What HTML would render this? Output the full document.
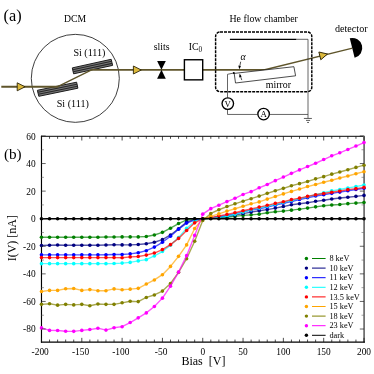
<!DOCTYPE html><html><head><meta charset="utf-8"><style>html,body{margin:0;padding:0;background:#fff}svg{display:block;will-change:transform}text{font-family:"Liberation Serif",serif;fill:#000}</style></head><body>
<svg width="374" height="374" viewBox="0 0 374 374">
<rect width="374" height="374" fill="#fff"/>
<g id="diagram">
<text x="3.5" y="21.4" font-size="16.3">(a)</text>
<text x="64" y="22" font-size="9.7">DCM</text>
<circle cx="75.3" cy="78.35" r="44.0" fill="none" stroke="#1c1c1c" stroke-width="0.85"/>
<polygon points="72.3,67.9 111.2,59.3 112.6,65.4 73.6,73.8" fill="#787878" stroke="#1a1a1a" stroke-width="1.0"/>
<line x1="72.73" y1="69.86" x2="111.67" y2="61.33" stroke="#262626" stroke-width="1.05"/>
<line x1="73.17" y1="71.84" x2="112.13" y2="63.37" stroke="#262626" stroke-width="1.05"/>
<polygon points="37.4,90.3 76.6,82.2 77.9,88.2 38.8,96.3" fill="#787878" stroke="#1a1a1a" stroke-width="1.0"/>
<line x1="37.87" y1="92.30" x2="77.03" y2="84.20" stroke="#262626" stroke-width="1.05"/>
<line x1="38.33" y1="94.30" x2="77.47" y2="86.20" stroke="#262626" stroke-width="1.05"/>
<text x="73.4" y="56" font-size="10.1">Si (111)</text>
<text x="56.7" y="107" font-size="10.15">Si (111)</text>
<polyline points="57.2,86.85 91.6,69.85" fill="none" stroke="#5f552b" stroke-width="1.35" stroke-linecap="round"/>
<polyline points="263.8,70.0 351.5,48.3" fill="none" stroke="#5f552b" stroke-width="1.35" stroke-linecap="round"/>
<line x1="1.3" y1="86.75" x2="57.7" y2="86.75" stroke="#5f552b" stroke-width="1.8"/>
<line x1="91.2" y1="69.95" x2="264.6" y2="69.95" stroke="#5f552b" stroke-width="1.8"/>
<polygon transform="translate(25.1,86.8) rotate(0.0)" points="0,0 -7.9,-4.0 -7.9,4.0" fill="#dcb93c" stroke="#2e2608" stroke-width="0.9" stroke-linejoin="miter"/>
<polygon transform="translate(141.3,70.0) rotate(0.0)" points="0,0 -7.9,-4.0 -7.9,4.0" fill="#dcb93c" stroke="#2e2608" stroke-width="0.9" stroke-linejoin="miter"/>
<polygon transform="translate(327.5,54.0) rotate(-13.9)" points="0,0 -7.9,-4.0 -7.9,4.0" fill="#dcb93c" stroke="#2e2608" stroke-width="0.9" stroke-linejoin="miter"/>
<polygon points="157.1,61 165.8,61 161.45,69.8" fill="#000"/>
<polygon points="157.1,78.8 165.8,78.8 161.45,69.8" fill="#000"/>
<text x="153.7" y="49.8" font-size="9.9">slits</text>
<rect x="184.4" y="59.75" width="18.3" height="20.1" fill="#fff" stroke="#000" stroke-width="1.4"/>
<text x="188.8" y="50.2" font-size="9.7">IC<tspan font-size="7.2" dy="1.8">0</tspan></text>
<text x="229.5" y="21.8" font-size="9.85">He flow chamber</text>
<rect x="215.6" y="32.0" width="96.2" height="59.7" rx="4.4" ry="4.4" fill="none" stroke="#000" stroke-width="1.45" stroke-dasharray="3.0,1.0"/>
<line x1="229.9" y1="39.25" x2="296.4" y2="39.25" stroke="#000" stroke-width="1.25"/>
<polyline points="296.4,39.3 308.0,39.3 308.0,118.2" stroke="#333" stroke-width="0.75" fill="none"/>
<polyline points="233.8,73.0 227.5,74.3 227.5,97.6" stroke="#333" stroke-width="0.75" fill="none"/>
<polyline points="227.5,109.8 227.5,114.45 257.6,114.45" stroke="#333" stroke-width="0.75" fill="none"/>
<line x1="269.8" y1="114.45" x2="308.0" y2="114.45" stroke="#333" stroke-width="0.75" fill="none"/>
<line x1="303.9" y1="118.45" x2="311.9" y2="118.45" stroke="#333" stroke-width="0.8"/>
<line x1="306.0" y1="120.4" x2="310.1" y2="120.4" stroke="#333" stroke-width="0.8"/>
<line x1="307.1" y1="122.45" x2="309.0" y2="122.45" stroke="#333" stroke-width="0.8"/>
<polygon points="234.2,73.4 293.9,66.7 295.6,75.8 235.5,83" fill="#fff" stroke="#111" stroke-width="0.75"/>
<text x="265.8" y="87.6" font-size="9.9">mirror</text>
<line x1="240.7" y1="61.7" x2="239.6" y2="67" stroke="#111" stroke-width="0.75"/>
<polygon points="239.3,69.2 238.3,65.6 240.9,66.2" fill="#000"/>
<line x1="241.8" y1="80.1" x2="240.2" y2="75.5" stroke="#111" stroke-width="0.75"/>
<polygon points="239.6,73.6 241.6,76.6 239.1,77.4" fill="#000"/>
<circle cx="233.8" cy="73.1" r="1" fill="#000"/>
<text x="240.6" y="59.8" font-size="9.8" font-style="italic">α</text>
<circle cx="227.8" cy="103.6" r="5.75" fill="#fff" stroke="#000" stroke-width="1.35"/>
<text x="227.8" y="106.6" font-size="8.8" text-anchor="middle">V</text>
<circle cx="263.6" cy="114.05" r="5.75" fill="#fff" stroke="#000" stroke-width="1.35"/>
<text x="263.6" y="117" font-size="8.8" text-anchor="middle">A</text>
<path transform="translate(352.2,48.0) rotate(-13.9)" d="M0,-10.1 A10.1,10.1 0 0 1 0,10.1 Z" fill="#000"/>
<text x="335.0" y="32" font-size="10.15">detector</text>
</g>
<g id="chart">
<text x="3.9" y="158.6" font-size="15.2">(b)</text>
<line x1="40.93" y1="136.30" x2="363.25" y2="136.30" stroke="#383838" stroke-width="1.3"/>
<line x1="364.10" y1="135.70" x2="364.10" y2="342.60" stroke="#6a6a6a" stroke-width="1.7"/>
<line x1="41.48" y1="135.70" x2="41.48" y2="342.60" stroke="#000" stroke-width="1.15"/>
<line x1="40.93" y1="342.05" x2="364.90" y2="342.05" stroke="#000" stroke-width="1.15"/>
<polyline points="41.48,237.18 49.54,237.18 57.61,237.18 65.67,237.18 73.73,237.18 81.80,237.18 89.86,237.18 97.92,237.18 105.98,237.04 114.05,237.04 122.11,236.90 130.17,236.90 138.24,236.90 146.30,236.49 154.36,234.97 162.43,232.35 170.49,228.22 178.55,223.53 186.61,219.94 194.68,218.98 202.74,218.70 210.80,218.29 218.87,217.73 226.93,217.18 234.99,216.36 243.06,215.39 251.12,214.84 259.18,214.15 267.24,212.77 275.31,211.80 283.37,211.12 291.43,210.15 299.50,209.18 307.56,208.08 315.62,206.84 323.69,205.74 331.75,205.05 339.81,204.50 347.87,203.67 355.94,203.12 364.00,202.43" fill="none" stroke="#008000" stroke-width="1.4" stroke-opacity="0.68" stroke-linejoin="round"/>
<circle cx="41.48" cy="237.18" r="1.8" fill="#008000"/>
<circle cx="49.54" cy="237.18" r="1.8" fill="#008000"/>
<circle cx="57.61" cy="237.18" r="1.8" fill="#008000"/>
<circle cx="65.67" cy="237.18" r="1.8" fill="#008000"/>
<circle cx="73.73" cy="237.18" r="1.8" fill="#008000"/>
<circle cx="81.80" cy="237.18" r="1.8" fill="#008000"/>
<circle cx="89.86" cy="237.18" r="1.8" fill="#008000"/>
<circle cx="97.92" cy="237.18" r="1.8" fill="#008000"/>
<circle cx="105.98" cy="237.04" r="1.8" fill="#008000"/>
<circle cx="114.05" cy="237.04" r="1.8" fill="#008000"/>
<circle cx="122.11" cy="236.90" r="1.8" fill="#008000"/>
<circle cx="130.17" cy="236.90" r="1.8" fill="#008000"/>
<circle cx="138.24" cy="236.90" r="1.8" fill="#008000"/>
<circle cx="146.30" cy="236.49" r="1.8" fill="#008000"/>
<circle cx="154.36" cy="234.97" r="1.8" fill="#008000"/>
<circle cx="162.43" cy="232.35" r="1.8" fill="#008000"/>
<circle cx="170.49" cy="228.22" r="1.8" fill="#008000"/>
<circle cx="178.55" cy="223.53" r="1.8" fill="#008000"/>
<circle cx="186.61" cy="219.94" r="1.8" fill="#008000"/>
<circle cx="194.68" cy="218.98" r="1.8" fill="#008000"/>
<circle cx="202.74" cy="218.70" r="1.8" fill="#008000"/>
<circle cx="210.80" cy="218.29" r="1.8" fill="#008000"/>
<circle cx="218.87" cy="217.73" r="1.8" fill="#008000"/>
<circle cx="226.93" cy="217.18" r="1.8" fill="#008000"/>
<circle cx="234.99" cy="216.36" r="1.8" fill="#008000"/>
<circle cx="243.06" cy="215.39" r="1.8" fill="#008000"/>
<circle cx="251.12" cy="214.84" r="1.8" fill="#008000"/>
<circle cx="259.18" cy="214.15" r="1.8" fill="#008000"/>
<circle cx="267.24" cy="212.77" r="1.8" fill="#008000"/>
<circle cx="275.31" cy="211.80" r="1.8" fill="#008000"/>
<circle cx="283.37" cy="211.12" r="1.8" fill="#008000"/>
<circle cx="291.43" cy="210.15" r="1.8" fill="#008000"/>
<circle cx="299.50" cy="209.18" r="1.8" fill="#008000"/>
<circle cx="307.56" cy="208.08" r="1.8" fill="#008000"/>
<circle cx="315.62" cy="206.84" r="1.8" fill="#008000"/>
<circle cx="323.69" cy="205.74" r="1.8" fill="#008000"/>
<circle cx="331.75" cy="205.05" r="1.8" fill="#008000"/>
<circle cx="339.81" cy="204.50" r="1.8" fill="#008000"/>
<circle cx="347.87" cy="203.67" r="1.8" fill="#008000"/>
<circle cx="355.94" cy="203.12" r="1.8" fill="#008000"/>
<circle cx="364.00" cy="202.43" r="1.8" fill="#008000"/>
<polyline points="41.48,245.45 49.54,245.18 57.61,245.04 65.67,245.18 73.73,245.18 81.80,245.18 89.86,245.18 97.92,245.18 105.98,245.04 114.05,244.76 122.11,244.90 130.17,244.90 138.24,244.49 146.30,243.80 154.36,242.28 162.43,239.66 170.49,234.97 178.55,228.77 186.61,222.15 194.68,219.39 202.74,218.70 210.80,218.01 218.87,217.32 226.93,216.49 234.99,215.11 243.06,213.60 251.12,212.08 259.18,210.70 267.24,209.60 275.31,208.08 283.37,206.56 291.43,204.77 299.50,203.81 307.56,202.70 315.62,201.32 323.69,200.22 331.75,198.98 339.81,198.01 347.87,197.19 355.94,196.36 364.00,195.39" fill="none" stroke="#000080" stroke-width="1.4" stroke-opacity="0.68" stroke-linejoin="round"/>
<circle cx="41.48" cy="245.45" r="1.8" fill="#000080"/>
<circle cx="49.54" cy="245.18" r="1.8" fill="#000080"/>
<circle cx="57.61" cy="245.04" r="1.8" fill="#000080"/>
<circle cx="65.67" cy="245.18" r="1.8" fill="#000080"/>
<circle cx="73.73" cy="245.18" r="1.8" fill="#000080"/>
<circle cx="81.80" cy="245.18" r="1.8" fill="#000080"/>
<circle cx="89.86" cy="245.18" r="1.8" fill="#000080"/>
<circle cx="97.92" cy="245.18" r="1.8" fill="#000080"/>
<circle cx="105.98" cy="245.04" r="1.8" fill="#000080"/>
<circle cx="114.05" cy="244.76" r="1.8" fill="#000080"/>
<circle cx="122.11" cy="244.90" r="1.8" fill="#000080"/>
<circle cx="130.17" cy="244.90" r="1.8" fill="#000080"/>
<circle cx="138.24" cy="244.49" r="1.8" fill="#000080"/>
<circle cx="146.30" cy="243.80" r="1.8" fill="#000080"/>
<circle cx="154.36" cy="242.28" r="1.8" fill="#000080"/>
<circle cx="162.43" cy="239.66" r="1.8" fill="#000080"/>
<circle cx="170.49" cy="234.97" r="1.8" fill="#000080"/>
<circle cx="178.55" cy="228.77" r="1.8" fill="#000080"/>
<circle cx="186.61" cy="222.15" r="1.8" fill="#000080"/>
<circle cx="194.68" cy="219.39" r="1.8" fill="#000080"/>
<circle cx="202.74" cy="218.70" r="1.8" fill="#000080"/>
<circle cx="210.80" cy="218.01" r="1.8" fill="#000080"/>
<circle cx="218.87" cy="217.32" r="1.8" fill="#000080"/>
<circle cx="226.93" cy="216.49" r="1.8" fill="#000080"/>
<circle cx="234.99" cy="215.11" r="1.8" fill="#000080"/>
<circle cx="243.06" cy="213.60" r="1.8" fill="#000080"/>
<circle cx="251.12" cy="212.08" r="1.8" fill="#000080"/>
<circle cx="259.18" cy="210.70" r="1.8" fill="#000080"/>
<circle cx="267.24" cy="209.60" r="1.8" fill="#000080"/>
<circle cx="275.31" cy="208.08" r="1.8" fill="#000080"/>
<circle cx="283.37" cy="206.56" r="1.8" fill="#000080"/>
<circle cx="291.43" cy="204.77" r="1.8" fill="#000080"/>
<circle cx="299.50" cy="203.81" r="1.8" fill="#000080"/>
<circle cx="307.56" cy="202.70" r="1.8" fill="#000080"/>
<circle cx="315.62" cy="201.32" r="1.8" fill="#000080"/>
<circle cx="323.69" cy="200.22" r="1.8" fill="#000080"/>
<circle cx="331.75" cy="198.98" r="1.8" fill="#000080"/>
<circle cx="339.81" cy="198.01" r="1.8" fill="#000080"/>
<circle cx="347.87" cy="197.19" r="1.8" fill="#000080"/>
<circle cx="355.94" cy="196.36" r="1.8" fill="#000080"/>
<circle cx="364.00" cy="195.39" r="1.8" fill="#000080"/>
<polyline points="41.48,254.83 49.54,254.83 57.61,254.83 65.67,254.83 73.73,254.83 81.80,254.83 89.86,254.83 97.92,254.83 105.98,254.69 114.05,254.55 122.11,254.55 130.17,253.86 138.24,252.76 146.30,250.69 154.36,247.11 162.43,242.28 170.49,236.21 178.55,229.18 186.61,223.11 194.68,220.08 202.74,218.70 210.80,217.87 218.87,216.77 226.93,215.53 234.99,213.87 243.06,211.94 251.12,210.15 259.18,208.77 267.24,207.12 275.31,205.19 283.37,203.26 291.43,201.46 299.50,199.53 307.56,197.74 315.62,195.95 323.69,194.71 331.75,193.33 339.81,192.09 347.87,190.71 355.94,189.47 364.00,188.22" fill="none" stroke="#0000ff" stroke-width="1.4" stroke-opacity="0.68" stroke-linejoin="round"/>
<circle cx="41.48" cy="254.83" r="1.8" fill="#0000ff"/>
<circle cx="49.54" cy="254.83" r="1.8" fill="#0000ff"/>
<circle cx="57.61" cy="254.83" r="1.8" fill="#0000ff"/>
<circle cx="65.67" cy="254.83" r="1.8" fill="#0000ff"/>
<circle cx="73.73" cy="254.83" r="1.8" fill="#0000ff"/>
<circle cx="81.80" cy="254.83" r="1.8" fill="#0000ff"/>
<circle cx="89.86" cy="254.83" r="1.8" fill="#0000ff"/>
<circle cx="97.92" cy="254.83" r="1.8" fill="#0000ff"/>
<circle cx="105.98" cy="254.69" r="1.8" fill="#0000ff"/>
<circle cx="114.05" cy="254.55" r="1.8" fill="#0000ff"/>
<circle cx="122.11" cy="254.55" r="1.8" fill="#0000ff"/>
<circle cx="130.17" cy="253.86" r="1.8" fill="#0000ff"/>
<circle cx="138.24" cy="252.76" r="1.8" fill="#0000ff"/>
<circle cx="146.30" cy="250.69" r="1.8" fill="#0000ff"/>
<circle cx="154.36" cy="247.11" r="1.8" fill="#0000ff"/>
<circle cx="162.43" cy="242.28" r="1.8" fill="#0000ff"/>
<circle cx="170.49" cy="236.21" r="1.8" fill="#0000ff"/>
<circle cx="178.55" cy="229.18" r="1.8" fill="#0000ff"/>
<circle cx="186.61" cy="223.11" r="1.8" fill="#0000ff"/>
<circle cx="194.68" cy="220.08" r="1.8" fill="#0000ff"/>
<circle cx="202.74" cy="218.70" r="1.8" fill="#0000ff"/>
<circle cx="210.80" cy="217.87" r="1.8" fill="#0000ff"/>
<circle cx="218.87" cy="216.77" r="1.8" fill="#0000ff"/>
<circle cx="226.93" cy="215.53" r="1.8" fill="#0000ff"/>
<circle cx="234.99" cy="213.87" r="1.8" fill="#0000ff"/>
<circle cx="243.06" cy="211.94" r="1.8" fill="#0000ff"/>
<circle cx="251.12" cy="210.15" r="1.8" fill="#0000ff"/>
<circle cx="259.18" cy="208.77" r="1.8" fill="#0000ff"/>
<circle cx="267.24" cy="207.12" r="1.8" fill="#0000ff"/>
<circle cx="275.31" cy="205.19" r="1.8" fill="#0000ff"/>
<circle cx="283.37" cy="203.26" r="1.8" fill="#0000ff"/>
<circle cx="291.43" cy="201.46" r="1.8" fill="#0000ff"/>
<circle cx="299.50" cy="199.53" r="1.8" fill="#0000ff"/>
<circle cx="307.56" cy="197.74" r="1.8" fill="#0000ff"/>
<circle cx="315.62" cy="195.95" r="1.8" fill="#0000ff"/>
<circle cx="323.69" cy="194.71" r="1.8" fill="#0000ff"/>
<circle cx="331.75" cy="193.33" r="1.8" fill="#0000ff"/>
<circle cx="339.81" cy="192.09" r="1.8" fill="#0000ff"/>
<circle cx="347.87" cy="190.71" r="1.8" fill="#0000ff"/>
<circle cx="355.94" cy="189.47" r="1.8" fill="#0000ff"/>
<circle cx="364.00" cy="188.22" r="1.8" fill="#0000ff"/>
<polyline points="41.48,263.66 49.54,263.66 57.61,263.66 65.67,263.66 73.73,263.66 81.80,263.66 89.86,263.66 97.92,263.66 105.98,263.66 114.05,263.52 122.11,263.10 130.17,262.41 138.24,260.90 146.30,259.66 154.36,255.93 162.43,251.52 170.49,245.18 178.55,237.59 186.61,228.22 194.68,221.46 202.74,218.70 210.80,218.01 218.87,217.18 226.93,216.36 234.99,214.29 243.06,212.08 251.12,209.87 259.18,208.08 267.24,206.29 275.31,204.36 283.37,202.43 291.43,200.50 299.50,198.57 307.56,196.64 315.62,194.71 323.69,192.77 331.75,190.84 339.81,189.47 347.87,187.95 355.94,186.57 364.00,185.05" fill="none" stroke="#00ffff" stroke-width="1.4" stroke-opacity="0.68" stroke-linejoin="round"/>
<circle cx="41.48" cy="263.66" r="1.8" fill="#00ffff"/>
<circle cx="49.54" cy="263.66" r="1.8" fill="#00ffff"/>
<circle cx="57.61" cy="263.66" r="1.8" fill="#00ffff"/>
<circle cx="65.67" cy="263.66" r="1.8" fill="#00ffff"/>
<circle cx="73.73" cy="263.66" r="1.8" fill="#00ffff"/>
<circle cx="81.80" cy="263.66" r="1.8" fill="#00ffff"/>
<circle cx="89.86" cy="263.66" r="1.8" fill="#00ffff"/>
<circle cx="97.92" cy="263.66" r="1.8" fill="#00ffff"/>
<circle cx="105.98" cy="263.66" r="1.8" fill="#00ffff"/>
<circle cx="114.05" cy="263.52" r="1.8" fill="#00ffff"/>
<circle cx="122.11" cy="263.10" r="1.8" fill="#00ffff"/>
<circle cx="130.17" cy="262.41" r="1.8" fill="#00ffff"/>
<circle cx="138.24" cy="260.90" r="1.8" fill="#00ffff"/>
<circle cx="146.30" cy="259.66" r="1.8" fill="#00ffff"/>
<circle cx="154.36" cy="255.93" r="1.8" fill="#00ffff"/>
<circle cx="162.43" cy="251.52" r="1.8" fill="#00ffff"/>
<circle cx="170.49" cy="245.18" r="1.8" fill="#00ffff"/>
<circle cx="178.55" cy="237.59" r="1.8" fill="#00ffff"/>
<circle cx="186.61" cy="228.22" r="1.8" fill="#00ffff"/>
<circle cx="194.68" cy="221.46" r="1.8" fill="#00ffff"/>
<circle cx="202.74" cy="218.70" r="1.8" fill="#00ffff"/>
<circle cx="210.80" cy="218.01" r="1.8" fill="#00ffff"/>
<circle cx="218.87" cy="217.18" r="1.8" fill="#00ffff"/>
<circle cx="226.93" cy="216.36" r="1.8" fill="#00ffff"/>
<circle cx="234.99" cy="214.29" r="1.8" fill="#00ffff"/>
<circle cx="243.06" cy="212.08" r="1.8" fill="#00ffff"/>
<circle cx="251.12" cy="209.87" r="1.8" fill="#00ffff"/>
<circle cx="259.18" cy="208.08" r="1.8" fill="#00ffff"/>
<circle cx="267.24" cy="206.29" r="1.8" fill="#00ffff"/>
<circle cx="275.31" cy="204.36" r="1.8" fill="#00ffff"/>
<circle cx="283.37" cy="202.43" r="1.8" fill="#00ffff"/>
<circle cx="291.43" cy="200.50" r="1.8" fill="#00ffff"/>
<circle cx="299.50" cy="198.57" r="1.8" fill="#00ffff"/>
<circle cx="307.56" cy="196.64" r="1.8" fill="#00ffff"/>
<circle cx="315.62" cy="194.71" r="1.8" fill="#00ffff"/>
<circle cx="323.69" cy="192.77" r="1.8" fill="#00ffff"/>
<circle cx="331.75" cy="190.84" r="1.8" fill="#00ffff"/>
<circle cx="339.81" cy="189.47" r="1.8" fill="#00ffff"/>
<circle cx="347.87" cy="187.95" r="1.8" fill="#00ffff"/>
<circle cx="355.94" cy="186.57" r="1.8" fill="#00ffff"/>
<circle cx="364.00" cy="185.05" r="1.8" fill="#00ffff"/>
<polyline points="41.48,257.59 49.54,257.59 57.61,257.59 65.67,257.59 73.73,257.59 81.80,257.59 89.86,257.59 97.92,257.59 105.98,257.59 114.05,257.59 122.11,257.73 130.17,256.90 138.24,256.48 146.30,255.11 154.36,253.04 162.43,249.59 170.49,244.63 178.55,238.42 186.61,230.56 194.68,222.84 202.74,218.70 210.80,217.60 218.87,215.94 226.93,214.43 234.99,212.77 243.06,210.70 251.12,209.05 259.18,207.12 267.24,205.32 275.31,203.39 283.37,201.74 291.43,199.67 299.50,198.15 307.56,196.36 315.62,194.71 323.69,193.46 331.75,192.22 339.81,190.98 347.87,189.60 355.94,188.64 364.00,187.40" fill="none" stroke="#ff0000" stroke-width="1.4" stroke-opacity="0.68" stroke-linejoin="round"/>
<circle cx="41.48" cy="257.59" r="1.8" fill="#ff0000"/>
<circle cx="49.54" cy="257.59" r="1.8" fill="#ff0000"/>
<circle cx="57.61" cy="257.59" r="1.8" fill="#ff0000"/>
<circle cx="65.67" cy="257.59" r="1.8" fill="#ff0000"/>
<circle cx="73.73" cy="257.59" r="1.8" fill="#ff0000"/>
<circle cx="81.80" cy="257.59" r="1.8" fill="#ff0000"/>
<circle cx="89.86" cy="257.59" r="1.8" fill="#ff0000"/>
<circle cx="97.92" cy="257.59" r="1.8" fill="#ff0000"/>
<circle cx="105.98" cy="257.59" r="1.8" fill="#ff0000"/>
<circle cx="114.05" cy="257.59" r="1.8" fill="#ff0000"/>
<circle cx="122.11" cy="257.73" r="1.8" fill="#ff0000"/>
<circle cx="130.17" cy="256.90" r="1.8" fill="#ff0000"/>
<circle cx="138.24" cy="256.48" r="1.8" fill="#ff0000"/>
<circle cx="146.30" cy="255.11" r="1.8" fill="#ff0000"/>
<circle cx="154.36" cy="253.04" r="1.8" fill="#ff0000"/>
<circle cx="162.43" cy="249.59" r="1.8" fill="#ff0000"/>
<circle cx="170.49" cy="244.63" r="1.8" fill="#ff0000"/>
<circle cx="178.55" cy="238.42" r="1.8" fill="#ff0000"/>
<circle cx="186.61" cy="230.56" r="1.8" fill="#ff0000"/>
<circle cx="194.68" cy="222.84" r="1.8" fill="#ff0000"/>
<circle cx="202.74" cy="218.70" r="1.8" fill="#ff0000"/>
<circle cx="210.80" cy="217.60" r="1.8" fill="#ff0000"/>
<circle cx="218.87" cy="215.94" r="1.8" fill="#ff0000"/>
<circle cx="226.93" cy="214.43" r="1.8" fill="#ff0000"/>
<circle cx="234.99" cy="212.77" r="1.8" fill="#ff0000"/>
<circle cx="243.06" cy="210.70" r="1.8" fill="#ff0000"/>
<circle cx="251.12" cy="209.05" r="1.8" fill="#ff0000"/>
<circle cx="259.18" cy="207.12" r="1.8" fill="#ff0000"/>
<circle cx="267.24" cy="205.32" r="1.8" fill="#ff0000"/>
<circle cx="275.31" cy="203.39" r="1.8" fill="#ff0000"/>
<circle cx="283.37" cy="201.74" r="1.8" fill="#ff0000"/>
<circle cx="291.43" cy="199.67" r="1.8" fill="#ff0000"/>
<circle cx="299.50" cy="198.15" r="1.8" fill="#ff0000"/>
<circle cx="307.56" cy="196.36" r="1.8" fill="#ff0000"/>
<circle cx="315.62" cy="194.71" r="1.8" fill="#ff0000"/>
<circle cx="323.69" cy="193.46" r="1.8" fill="#ff0000"/>
<circle cx="331.75" cy="192.22" r="1.8" fill="#ff0000"/>
<circle cx="339.81" cy="190.98" r="1.8" fill="#ff0000"/>
<circle cx="347.87" cy="189.60" r="1.8" fill="#ff0000"/>
<circle cx="355.94" cy="188.64" r="1.8" fill="#ff0000"/>
<circle cx="364.00" cy="187.40" r="1.8" fill="#ff0000"/>
<polyline points="41.48,291.51 49.54,290.41 57.61,290.41 65.67,288.75 73.73,288.48 81.80,290.41 89.86,289.58 97.92,290.68 105.98,290.68 114.05,288.89 122.11,289.72 130.17,289.17 138.24,288.34 146.30,284.06 154.36,279.93 162.43,274.69 170.49,266.41 178.55,256.35 186.61,244.90 194.68,228.49 202.74,218.70 210.80,216.36 218.87,213.87 226.93,211.12 234.99,208.77 243.06,206.29 251.12,203.81 259.18,201.88 267.24,199.12 275.31,196.50 283.37,193.88 291.43,191.40 299.50,189.05 307.56,186.57 315.62,184.50 323.69,182.29 331.75,180.23 339.81,178.02 347.87,175.95 355.94,173.74 364.00,171.68" fill="none" stroke="#ffa500" stroke-width="1.4" stroke-opacity="0.68" stroke-linejoin="round"/>
<circle cx="41.48" cy="291.51" r="1.8" fill="#ffa500"/>
<circle cx="49.54" cy="290.41" r="1.8" fill="#ffa500"/>
<circle cx="57.61" cy="290.41" r="1.8" fill="#ffa500"/>
<circle cx="65.67" cy="288.75" r="1.8" fill="#ffa500"/>
<circle cx="73.73" cy="288.48" r="1.8" fill="#ffa500"/>
<circle cx="81.80" cy="290.41" r="1.8" fill="#ffa500"/>
<circle cx="89.86" cy="289.58" r="1.8" fill="#ffa500"/>
<circle cx="97.92" cy="290.68" r="1.8" fill="#ffa500"/>
<circle cx="105.98" cy="290.68" r="1.8" fill="#ffa500"/>
<circle cx="114.05" cy="288.89" r="1.8" fill="#ffa500"/>
<circle cx="122.11" cy="289.72" r="1.8" fill="#ffa500"/>
<circle cx="130.17" cy="289.17" r="1.8" fill="#ffa500"/>
<circle cx="138.24" cy="288.34" r="1.8" fill="#ffa500"/>
<circle cx="146.30" cy="284.06" r="1.8" fill="#ffa500"/>
<circle cx="154.36" cy="279.93" r="1.8" fill="#ffa500"/>
<circle cx="162.43" cy="274.69" r="1.8" fill="#ffa500"/>
<circle cx="170.49" cy="266.41" r="1.8" fill="#ffa500"/>
<circle cx="178.55" cy="256.35" r="1.8" fill="#ffa500"/>
<circle cx="186.61" cy="244.90" r="1.8" fill="#ffa500"/>
<circle cx="194.68" cy="228.49" r="1.8" fill="#ffa500"/>
<circle cx="202.74" cy="218.70" r="1.8" fill="#ffa500"/>
<circle cx="210.80" cy="216.36" r="1.8" fill="#ffa500"/>
<circle cx="218.87" cy="213.87" r="1.8" fill="#ffa500"/>
<circle cx="226.93" cy="211.12" r="1.8" fill="#ffa500"/>
<circle cx="234.99" cy="208.77" r="1.8" fill="#ffa500"/>
<circle cx="243.06" cy="206.29" r="1.8" fill="#ffa500"/>
<circle cx="251.12" cy="203.81" r="1.8" fill="#ffa500"/>
<circle cx="259.18" cy="201.88" r="1.8" fill="#ffa500"/>
<circle cx="267.24" cy="199.12" r="1.8" fill="#ffa500"/>
<circle cx="275.31" cy="196.50" r="1.8" fill="#ffa500"/>
<circle cx="283.37" cy="193.88" r="1.8" fill="#ffa500"/>
<circle cx="291.43" cy="191.40" r="1.8" fill="#ffa500"/>
<circle cx="299.50" cy="189.05" r="1.8" fill="#ffa500"/>
<circle cx="307.56" cy="186.57" r="1.8" fill="#ffa500"/>
<circle cx="315.62" cy="184.50" r="1.8" fill="#ffa500"/>
<circle cx="323.69" cy="182.29" r="1.8" fill="#ffa500"/>
<circle cx="331.75" cy="180.23" r="1.8" fill="#ffa500"/>
<circle cx="339.81" cy="178.02" r="1.8" fill="#ffa500"/>
<circle cx="347.87" cy="175.95" r="1.8" fill="#ffa500"/>
<circle cx="355.94" cy="173.74" r="1.8" fill="#ffa500"/>
<circle cx="364.00" cy="171.68" r="1.8" fill="#ffa500"/>
<polyline points="41.48,304.34 49.54,303.78 57.61,305.16 65.67,304.34 73.73,304.89 81.80,304.34 89.86,305.71 97.92,304.06 105.98,304.34 114.05,304.34 122.11,302.82 130.17,301.30 138.24,301.58 146.30,297.44 154.36,294.96 162.43,291.10 170.49,283.51 178.55,272.34 186.61,258.69 194.68,241.32 202.74,220.49 210.80,213.46 218.87,209.74 226.93,206.56 234.99,203.81 243.06,201.19 251.12,198.70 259.18,196.08 267.24,193.33 275.31,190.71 283.37,188.36 291.43,185.74 299.50,183.67 307.56,181.47 315.62,178.85 323.69,176.64 331.75,174.16 339.81,171.95 347.87,169.75 355.94,167.40 364.00,165.19" fill="none" stroke="#808000" stroke-width="1.4" stroke-opacity="0.68" stroke-linejoin="round"/>
<circle cx="41.48" cy="304.34" r="1.8" fill="#808000"/>
<circle cx="49.54" cy="303.78" r="1.8" fill="#808000"/>
<circle cx="57.61" cy="305.16" r="1.8" fill="#808000"/>
<circle cx="65.67" cy="304.34" r="1.8" fill="#808000"/>
<circle cx="73.73" cy="304.89" r="1.8" fill="#808000"/>
<circle cx="81.80" cy="304.34" r="1.8" fill="#808000"/>
<circle cx="89.86" cy="305.71" r="1.8" fill="#808000"/>
<circle cx="97.92" cy="304.06" r="1.8" fill="#808000"/>
<circle cx="105.98" cy="304.34" r="1.8" fill="#808000"/>
<circle cx="114.05" cy="304.34" r="1.8" fill="#808000"/>
<circle cx="122.11" cy="302.82" r="1.8" fill="#808000"/>
<circle cx="130.17" cy="301.30" r="1.8" fill="#808000"/>
<circle cx="138.24" cy="301.58" r="1.8" fill="#808000"/>
<circle cx="146.30" cy="297.44" r="1.8" fill="#808000"/>
<circle cx="154.36" cy="294.96" r="1.8" fill="#808000"/>
<circle cx="162.43" cy="291.10" r="1.8" fill="#808000"/>
<circle cx="170.49" cy="283.51" r="1.8" fill="#808000"/>
<circle cx="178.55" cy="272.34" r="1.8" fill="#808000"/>
<circle cx="186.61" cy="258.69" r="1.8" fill="#808000"/>
<circle cx="194.68" cy="241.32" r="1.8" fill="#808000"/>
<circle cx="202.74" cy="220.49" r="1.8" fill="#808000"/>
<circle cx="210.80" cy="213.46" r="1.8" fill="#808000"/>
<circle cx="218.87" cy="209.74" r="1.8" fill="#808000"/>
<circle cx="226.93" cy="206.56" r="1.8" fill="#808000"/>
<circle cx="234.99" cy="203.81" r="1.8" fill="#808000"/>
<circle cx="243.06" cy="201.19" r="1.8" fill="#808000"/>
<circle cx="251.12" cy="198.70" r="1.8" fill="#808000"/>
<circle cx="259.18" cy="196.08" r="1.8" fill="#808000"/>
<circle cx="267.24" cy="193.33" r="1.8" fill="#808000"/>
<circle cx="275.31" cy="190.71" r="1.8" fill="#808000"/>
<circle cx="283.37" cy="188.36" r="1.8" fill="#808000"/>
<circle cx="291.43" cy="185.74" r="1.8" fill="#808000"/>
<circle cx="299.50" cy="183.67" r="1.8" fill="#808000"/>
<circle cx="307.56" cy="181.47" r="1.8" fill="#808000"/>
<circle cx="315.62" cy="178.85" r="1.8" fill="#808000"/>
<circle cx="323.69" cy="176.64" r="1.8" fill="#808000"/>
<circle cx="331.75" cy="174.16" r="1.8" fill="#808000"/>
<circle cx="339.81" cy="171.95" r="1.8" fill="#808000"/>
<circle cx="347.87" cy="169.75" r="1.8" fill="#808000"/>
<circle cx="355.94" cy="167.40" r="1.8" fill="#808000"/>
<circle cx="364.00" cy="165.19" r="1.8" fill="#808000"/>
<polyline points="41.48,327.92 49.54,330.40 57.61,330.54 65.67,331.23 73.73,331.36 81.80,330.40 89.86,329.57 97.92,328.19 105.98,330.12 114.05,327.78 122.11,326.68 130.17,322.54 138.24,317.85 146.30,312.89 154.36,306.54 162.43,298.13 170.49,286.13 178.55,272.07 186.61,255.66 194.68,235.39 202.74,214.15 210.80,208.63 218.87,205.19 226.93,201.60 234.99,198.29 243.06,194.43 251.12,191.67 259.18,187.81 267.24,184.50 275.31,180.64 283.37,177.05 291.43,173.33 299.50,169.88 307.56,166.57 315.62,163.26 323.69,159.54 331.75,155.82 339.81,152.78 347.87,149.47 355.94,146.03 364.00,142.58" fill="none" stroke="#ff00ff" stroke-width="1.4" stroke-opacity="0.68" stroke-linejoin="round"/>
<circle cx="41.48" cy="327.92" r="1.8" fill="#ff00ff"/>
<circle cx="49.54" cy="330.40" r="1.8" fill="#ff00ff"/>
<circle cx="57.61" cy="330.54" r="1.8" fill="#ff00ff"/>
<circle cx="65.67" cy="331.23" r="1.8" fill="#ff00ff"/>
<circle cx="73.73" cy="331.36" r="1.8" fill="#ff00ff"/>
<circle cx="81.80" cy="330.40" r="1.8" fill="#ff00ff"/>
<circle cx="89.86" cy="329.57" r="1.8" fill="#ff00ff"/>
<circle cx="97.92" cy="328.19" r="1.8" fill="#ff00ff"/>
<circle cx="105.98" cy="330.12" r="1.8" fill="#ff00ff"/>
<circle cx="114.05" cy="327.78" r="1.8" fill="#ff00ff"/>
<circle cx="122.11" cy="326.68" r="1.8" fill="#ff00ff"/>
<circle cx="130.17" cy="322.54" r="1.8" fill="#ff00ff"/>
<circle cx="138.24" cy="317.85" r="1.8" fill="#ff00ff"/>
<circle cx="146.30" cy="312.89" r="1.8" fill="#ff00ff"/>
<circle cx="154.36" cy="306.54" r="1.8" fill="#ff00ff"/>
<circle cx="162.43" cy="298.13" r="1.8" fill="#ff00ff"/>
<circle cx="170.49" cy="286.13" r="1.8" fill="#ff00ff"/>
<circle cx="178.55" cy="272.07" r="1.8" fill="#ff00ff"/>
<circle cx="186.61" cy="255.66" r="1.8" fill="#ff00ff"/>
<circle cx="194.68" cy="235.39" r="1.8" fill="#ff00ff"/>
<circle cx="202.74" cy="214.15" r="1.8" fill="#ff00ff"/>
<circle cx="210.80" cy="208.63" r="1.8" fill="#ff00ff"/>
<circle cx="218.87" cy="205.19" r="1.8" fill="#ff00ff"/>
<circle cx="226.93" cy="201.60" r="1.8" fill="#ff00ff"/>
<circle cx="234.99" cy="198.29" r="1.8" fill="#ff00ff"/>
<circle cx="243.06" cy="194.43" r="1.8" fill="#ff00ff"/>
<circle cx="251.12" cy="191.67" r="1.8" fill="#ff00ff"/>
<circle cx="259.18" cy="187.81" r="1.8" fill="#ff00ff"/>
<circle cx="267.24" cy="184.50" r="1.8" fill="#ff00ff"/>
<circle cx="275.31" cy="180.64" r="1.8" fill="#ff00ff"/>
<circle cx="283.37" cy="177.05" r="1.8" fill="#ff00ff"/>
<circle cx="291.43" cy="173.33" r="1.8" fill="#ff00ff"/>
<circle cx="299.50" cy="169.88" r="1.8" fill="#ff00ff"/>
<circle cx="307.56" cy="166.57" r="1.8" fill="#ff00ff"/>
<circle cx="315.62" cy="163.26" r="1.8" fill="#ff00ff"/>
<circle cx="323.69" cy="159.54" r="1.8" fill="#ff00ff"/>
<circle cx="331.75" cy="155.82" r="1.8" fill="#ff00ff"/>
<circle cx="339.81" cy="152.78" r="1.8" fill="#ff00ff"/>
<circle cx="347.87" cy="149.47" r="1.8" fill="#ff00ff"/>
<circle cx="355.94" cy="146.03" r="1.8" fill="#ff00ff"/>
<circle cx="364.00" cy="142.58" r="1.8" fill="#ff00ff"/>
<polyline points="41.48,218.70 49.54,218.70 57.61,218.70 65.67,218.70 73.73,218.70 81.80,218.70 89.86,218.70 97.92,218.70 105.98,218.70 114.05,218.70 122.11,218.70 130.17,218.70 138.24,218.70 146.30,218.70 154.36,218.70 162.43,218.70 170.49,218.70 178.55,218.70 186.61,218.70 194.68,218.70 202.74,218.70 210.80,218.70 218.87,218.70 226.93,218.70 234.99,218.70 243.06,218.70 251.12,218.70 259.18,218.70 267.24,218.70 275.31,218.70 283.37,218.70 291.43,218.70 299.50,218.70 307.56,218.70 315.62,218.70 323.69,218.70 331.75,218.70 339.81,218.70 347.87,218.70 355.94,218.70 364.00,218.70" fill="none" stroke="#000000" stroke-width="1.4" stroke-opacity="1" stroke-linejoin="round"/>
<circle cx="41.48" cy="218.70" r="1.8" fill="#000000"/>
<circle cx="49.54" cy="218.70" r="1.8" fill="#000000"/>
<circle cx="57.61" cy="218.70" r="1.8" fill="#000000"/>
<circle cx="65.67" cy="218.70" r="1.8" fill="#000000"/>
<circle cx="73.73" cy="218.70" r="1.8" fill="#000000"/>
<circle cx="81.80" cy="218.70" r="1.8" fill="#000000"/>
<circle cx="89.86" cy="218.70" r="1.8" fill="#000000"/>
<circle cx="97.92" cy="218.70" r="1.8" fill="#000000"/>
<circle cx="105.98" cy="218.70" r="1.8" fill="#000000"/>
<circle cx="114.05" cy="218.70" r="1.8" fill="#000000"/>
<circle cx="122.11" cy="218.70" r="1.8" fill="#000000"/>
<circle cx="130.17" cy="218.70" r="1.8" fill="#000000"/>
<circle cx="138.24" cy="218.70" r="1.8" fill="#000000"/>
<circle cx="146.30" cy="218.70" r="1.8" fill="#000000"/>
<circle cx="154.36" cy="218.70" r="1.8" fill="#000000"/>
<circle cx="162.43" cy="218.70" r="1.8" fill="#000000"/>
<circle cx="170.49" cy="218.70" r="1.8" fill="#000000"/>
<circle cx="178.55" cy="218.70" r="1.8" fill="#000000"/>
<circle cx="186.61" cy="218.70" r="1.8" fill="#000000"/>
<circle cx="194.68" cy="218.70" r="1.8" fill="#000000"/>
<circle cx="202.74" cy="218.70" r="1.8" fill="#000000"/>
<circle cx="210.80" cy="218.70" r="1.8" fill="#000000"/>
<circle cx="218.87" cy="218.70" r="1.8" fill="#000000"/>
<circle cx="226.93" cy="218.70" r="1.8" fill="#000000"/>
<circle cx="234.99" cy="218.70" r="1.8" fill="#000000"/>
<circle cx="243.06" cy="218.70" r="1.8" fill="#000000"/>
<circle cx="251.12" cy="218.70" r="1.8" fill="#000000"/>
<circle cx="259.18" cy="218.70" r="1.8" fill="#000000"/>
<circle cx="267.24" cy="218.70" r="1.8" fill="#000000"/>
<circle cx="275.31" cy="218.70" r="1.8" fill="#000000"/>
<circle cx="283.37" cy="218.70" r="1.8" fill="#000000"/>
<circle cx="291.43" cy="218.70" r="1.8" fill="#000000"/>
<circle cx="299.50" cy="218.70" r="1.8" fill="#000000"/>
<circle cx="307.56" cy="218.70" r="1.8" fill="#000000"/>
<circle cx="315.62" cy="218.70" r="1.8" fill="#000000"/>
<circle cx="323.69" cy="218.70" r="1.8" fill="#000000"/>
<circle cx="331.75" cy="218.70" r="1.8" fill="#000000"/>
<circle cx="339.81" cy="218.70" r="1.8" fill="#000000"/>
<circle cx="347.87" cy="218.70" r="1.8" fill="#000000"/>
<circle cx="355.94" cy="218.70" r="1.8" fill="#000000"/>
<circle cx="364.00" cy="218.70" r="1.8" fill="#000000"/>
<line x1="41.48" y1="342.05" x2="41.48" y2="337.85" stroke="#111" stroke-width="0.75"/>
<line x1="41.48" y1="136.30" x2="41.48" y2="140.50" stroke="#111" stroke-width="0.75"/>
<text x="40.18" y="355" font-size="9.4" text-anchor="middle">-200</text>
<line x1="49.54" y1="342.05" x2="49.54" y2="339.55" stroke="#111" stroke-width="0.75"/>
<line x1="49.54" y1="136.30" x2="49.54" y2="138.80" stroke="#111" stroke-width="0.75"/>
<line x1="57.61" y1="342.05" x2="57.61" y2="339.55" stroke="#111" stroke-width="0.75"/>
<line x1="57.61" y1="136.30" x2="57.61" y2="138.80" stroke="#111" stroke-width="0.75"/>
<line x1="65.67" y1="342.05" x2="65.67" y2="339.55" stroke="#111" stroke-width="0.75"/>
<line x1="65.67" y1="136.30" x2="65.67" y2="138.80" stroke="#111" stroke-width="0.75"/>
<line x1="73.73" y1="342.05" x2="73.73" y2="339.55" stroke="#111" stroke-width="0.75"/>
<line x1="73.73" y1="136.30" x2="73.73" y2="138.80" stroke="#111" stroke-width="0.75"/>
<line x1="81.80" y1="342.05" x2="81.80" y2="337.85" stroke="#111" stroke-width="0.75"/>
<line x1="81.80" y1="136.30" x2="81.80" y2="140.50" stroke="#111" stroke-width="0.75"/>
<text x="80.50" y="355" font-size="9.4" text-anchor="middle">-150</text>
<line x1="89.86" y1="342.05" x2="89.86" y2="339.55" stroke="#111" stroke-width="0.75"/>
<line x1="89.86" y1="136.30" x2="89.86" y2="138.80" stroke="#111" stroke-width="0.75"/>
<line x1="97.92" y1="342.05" x2="97.92" y2="339.55" stroke="#111" stroke-width="0.75"/>
<line x1="97.92" y1="136.30" x2="97.92" y2="138.80" stroke="#111" stroke-width="0.75"/>
<line x1="105.98" y1="342.05" x2="105.98" y2="339.55" stroke="#111" stroke-width="0.75"/>
<line x1="105.98" y1="136.30" x2="105.98" y2="138.80" stroke="#111" stroke-width="0.75"/>
<line x1="114.05" y1="342.05" x2="114.05" y2="339.55" stroke="#111" stroke-width="0.75"/>
<line x1="114.05" y1="136.30" x2="114.05" y2="138.80" stroke="#111" stroke-width="0.75"/>
<line x1="122.11" y1="342.05" x2="122.11" y2="337.85" stroke="#111" stroke-width="0.75"/>
<line x1="122.11" y1="136.30" x2="122.11" y2="140.50" stroke="#111" stroke-width="0.75"/>
<text x="120.81" y="355" font-size="9.4" text-anchor="middle">-100</text>
<line x1="130.17" y1="342.05" x2="130.17" y2="339.55" stroke="#111" stroke-width="0.75"/>
<line x1="130.17" y1="136.30" x2="130.17" y2="138.80" stroke="#111" stroke-width="0.75"/>
<line x1="138.24" y1="342.05" x2="138.24" y2="339.55" stroke="#111" stroke-width="0.75"/>
<line x1="138.24" y1="136.30" x2="138.24" y2="138.80" stroke="#111" stroke-width="0.75"/>
<line x1="146.30" y1="342.05" x2="146.30" y2="339.55" stroke="#111" stroke-width="0.75"/>
<line x1="146.30" y1="136.30" x2="146.30" y2="138.80" stroke="#111" stroke-width="0.75"/>
<line x1="154.36" y1="342.05" x2="154.36" y2="339.55" stroke="#111" stroke-width="0.75"/>
<line x1="154.36" y1="136.30" x2="154.36" y2="138.80" stroke="#111" stroke-width="0.75"/>
<line x1="162.43" y1="342.05" x2="162.43" y2="337.85" stroke="#111" stroke-width="0.75"/>
<line x1="162.43" y1="136.30" x2="162.43" y2="140.50" stroke="#111" stroke-width="0.75"/>
<text x="161.12" y="355" font-size="9.4" text-anchor="middle">-50</text>
<line x1="170.49" y1="342.05" x2="170.49" y2="339.55" stroke="#111" stroke-width="0.75"/>
<line x1="170.49" y1="136.30" x2="170.49" y2="138.80" stroke="#111" stroke-width="0.75"/>
<line x1="178.55" y1="342.05" x2="178.55" y2="339.55" stroke="#111" stroke-width="0.75"/>
<line x1="178.55" y1="136.30" x2="178.55" y2="138.80" stroke="#111" stroke-width="0.75"/>
<line x1="186.61" y1="342.05" x2="186.61" y2="339.55" stroke="#111" stroke-width="0.75"/>
<line x1="186.61" y1="136.30" x2="186.61" y2="138.80" stroke="#111" stroke-width="0.75"/>
<line x1="194.68" y1="342.05" x2="194.68" y2="339.55" stroke="#111" stroke-width="0.75"/>
<line x1="194.68" y1="136.30" x2="194.68" y2="138.80" stroke="#111" stroke-width="0.75"/>
<line x1="202.74" y1="342.05" x2="202.74" y2="337.85" stroke="#111" stroke-width="0.75"/>
<line x1="202.74" y1="136.30" x2="202.74" y2="140.50" stroke="#111" stroke-width="0.75"/>
<text x="202.74" y="355" font-size="9.4" text-anchor="middle">0</text>
<line x1="210.80" y1="342.05" x2="210.80" y2="339.55" stroke="#111" stroke-width="0.75"/>
<line x1="210.80" y1="136.30" x2="210.80" y2="138.80" stroke="#111" stroke-width="0.75"/>
<line x1="218.87" y1="342.05" x2="218.87" y2="339.55" stroke="#111" stroke-width="0.75"/>
<line x1="218.87" y1="136.30" x2="218.87" y2="138.80" stroke="#111" stroke-width="0.75"/>
<line x1="226.93" y1="342.05" x2="226.93" y2="339.55" stroke="#111" stroke-width="0.75"/>
<line x1="226.93" y1="136.30" x2="226.93" y2="138.80" stroke="#111" stroke-width="0.75"/>
<line x1="234.99" y1="342.05" x2="234.99" y2="339.55" stroke="#111" stroke-width="0.75"/>
<line x1="234.99" y1="136.30" x2="234.99" y2="138.80" stroke="#111" stroke-width="0.75"/>
<line x1="243.06" y1="342.05" x2="243.06" y2="337.85" stroke="#111" stroke-width="0.75"/>
<line x1="243.06" y1="136.30" x2="243.06" y2="140.50" stroke="#111" stroke-width="0.75"/>
<text x="243.06" y="355" font-size="9.4" text-anchor="middle">50</text>
<line x1="251.12" y1="342.05" x2="251.12" y2="339.55" stroke="#111" stroke-width="0.75"/>
<line x1="251.12" y1="136.30" x2="251.12" y2="138.80" stroke="#111" stroke-width="0.75"/>
<line x1="259.18" y1="342.05" x2="259.18" y2="339.55" stroke="#111" stroke-width="0.75"/>
<line x1="259.18" y1="136.30" x2="259.18" y2="138.80" stroke="#111" stroke-width="0.75"/>
<line x1="267.24" y1="342.05" x2="267.24" y2="339.55" stroke="#111" stroke-width="0.75"/>
<line x1="267.24" y1="136.30" x2="267.24" y2="138.80" stroke="#111" stroke-width="0.75"/>
<line x1="275.31" y1="342.05" x2="275.31" y2="339.55" stroke="#111" stroke-width="0.75"/>
<line x1="275.31" y1="136.30" x2="275.31" y2="138.80" stroke="#111" stroke-width="0.75"/>
<line x1="283.37" y1="342.05" x2="283.37" y2="337.85" stroke="#111" stroke-width="0.75"/>
<line x1="283.37" y1="136.30" x2="283.37" y2="140.50" stroke="#111" stroke-width="0.75"/>
<text x="283.37" y="355" font-size="9.4" text-anchor="middle">100</text>
<line x1="291.43" y1="342.05" x2="291.43" y2="339.55" stroke="#111" stroke-width="0.75"/>
<line x1="291.43" y1="136.30" x2="291.43" y2="138.80" stroke="#111" stroke-width="0.75"/>
<line x1="299.50" y1="342.05" x2="299.50" y2="339.55" stroke="#111" stroke-width="0.75"/>
<line x1="299.50" y1="136.30" x2="299.50" y2="138.80" stroke="#111" stroke-width="0.75"/>
<line x1="307.56" y1="342.05" x2="307.56" y2="339.55" stroke="#111" stroke-width="0.75"/>
<line x1="307.56" y1="136.30" x2="307.56" y2="138.80" stroke="#111" stroke-width="0.75"/>
<line x1="315.62" y1="342.05" x2="315.62" y2="339.55" stroke="#111" stroke-width="0.75"/>
<line x1="315.62" y1="136.30" x2="315.62" y2="138.80" stroke="#111" stroke-width="0.75"/>
<line x1="323.69" y1="342.05" x2="323.69" y2="337.85" stroke="#111" stroke-width="0.75"/>
<line x1="323.69" y1="136.30" x2="323.69" y2="140.50" stroke="#111" stroke-width="0.75"/>
<text x="323.69" y="355" font-size="9.4" text-anchor="middle">150</text>
<line x1="331.75" y1="342.05" x2="331.75" y2="339.55" stroke="#111" stroke-width="0.75"/>
<line x1="331.75" y1="136.30" x2="331.75" y2="138.80" stroke="#111" stroke-width="0.75"/>
<line x1="339.81" y1="342.05" x2="339.81" y2="339.55" stroke="#111" stroke-width="0.75"/>
<line x1="339.81" y1="136.30" x2="339.81" y2="138.80" stroke="#111" stroke-width="0.75"/>
<line x1="347.87" y1="342.05" x2="347.87" y2="339.55" stroke="#111" stroke-width="0.75"/>
<line x1="347.87" y1="136.30" x2="347.87" y2="138.80" stroke="#111" stroke-width="0.75"/>
<line x1="355.94" y1="342.05" x2="355.94" y2="339.55" stroke="#111" stroke-width="0.75"/>
<line x1="355.94" y1="136.30" x2="355.94" y2="138.80" stroke="#111" stroke-width="0.75"/>
<line x1="364.00" y1="342.05" x2="364.00" y2="337.85" stroke="#111" stroke-width="0.75"/>
<line x1="364.00" y1="136.30" x2="364.00" y2="140.50" stroke="#111" stroke-width="0.75"/>
<text x="364.00" y="355" font-size="9.4" text-anchor="middle">200</text>
<line x1="41.48" y1="329.02" x2="45.68" y2="329.02" stroke="#222" stroke-width="0.7"/>
<line x1="364.00" y1="329.02" x2="359.80" y2="329.02" stroke="#222" stroke-width="0.7"/>
<text x="35.6" y="332" font-size="9.4" text-anchor="end">-80</text>
<line x1="41.48" y1="315.23" x2="43.98" y2="315.23" stroke="#666" stroke-width="0.6"/>
<line x1="364.00" y1="315.23" x2="361.50" y2="315.23" stroke="#666" stroke-width="0.6"/>
<line x1="41.48" y1="301.44" x2="45.68" y2="301.44" stroke="#222" stroke-width="0.7"/>
<line x1="364.00" y1="301.44" x2="359.80" y2="301.44" stroke="#222" stroke-width="0.7"/>
<text x="35.6" y="305" font-size="9.4" text-anchor="end">-60</text>
<line x1="41.48" y1="287.65" x2="43.98" y2="287.65" stroke="#666" stroke-width="0.6"/>
<line x1="364.00" y1="287.65" x2="361.50" y2="287.65" stroke="#666" stroke-width="0.6"/>
<line x1="41.48" y1="273.86" x2="45.68" y2="273.86" stroke="#222" stroke-width="0.7"/>
<line x1="364.00" y1="273.86" x2="359.80" y2="273.86" stroke="#222" stroke-width="0.7"/>
<text x="35.6" y="277" font-size="9.4" text-anchor="end">-40</text>
<line x1="41.48" y1="260.07" x2="43.98" y2="260.07" stroke="#666" stroke-width="0.6"/>
<line x1="364.00" y1="260.07" x2="361.50" y2="260.07" stroke="#666" stroke-width="0.6"/>
<line x1="41.48" y1="246.28" x2="45.68" y2="246.28" stroke="#222" stroke-width="0.7"/>
<line x1="364.00" y1="246.28" x2="359.80" y2="246.28" stroke="#222" stroke-width="0.7"/>
<text x="35.6" y="250" font-size="9.4" text-anchor="end">-20</text>
<line x1="41.48" y1="232.49" x2="43.98" y2="232.49" stroke="#666" stroke-width="0.6"/>
<line x1="364.00" y1="232.49" x2="361.50" y2="232.49" stroke="#666" stroke-width="0.6"/>
<line x1="41.48" y1="218.70" x2="45.68" y2="218.70" stroke="#222" stroke-width="0.7"/>
<line x1="364.00" y1="218.70" x2="359.80" y2="218.70" stroke="#222" stroke-width="0.7"/>
<text x="35.6" y="222" font-size="9.4" text-anchor="end">0</text>
<line x1="41.48" y1="204.91" x2="43.98" y2="204.91" stroke="#666" stroke-width="0.6"/>
<line x1="364.00" y1="204.91" x2="361.50" y2="204.91" stroke="#666" stroke-width="0.6"/>
<line x1="41.48" y1="191.12" x2="45.68" y2="191.12" stroke="#222" stroke-width="0.7"/>
<line x1="364.00" y1="191.12" x2="359.80" y2="191.12" stroke="#222" stroke-width="0.7"/>
<text x="35.6" y="195" font-size="9.4" text-anchor="end">20</text>
<line x1="41.48" y1="177.33" x2="43.98" y2="177.33" stroke="#666" stroke-width="0.6"/>
<line x1="364.00" y1="177.33" x2="361.50" y2="177.33" stroke="#666" stroke-width="0.6"/>
<line x1="41.48" y1="163.54" x2="45.68" y2="163.54" stroke="#222" stroke-width="0.7"/>
<line x1="364.00" y1="163.54" x2="359.80" y2="163.54" stroke="#222" stroke-width="0.7"/>
<text x="35.6" y="167" font-size="9.4" text-anchor="end">40</text>
<line x1="41.48" y1="149.75" x2="43.98" y2="149.75" stroke="#666" stroke-width="0.6"/>
<line x1="364.00" y1="149.75" x2="361.50" y2="149.75" stroke="#666" stroke-width="0.6"/>
<line x1="41.48" y1="135.96" x2="45.68" y2="135.96" stroke="#222" stroke-width="0.7"/>
<line x1="364.00" y1="135.96" x2="359.80" y2="135.96" stroke="#222" stroke-width="0.7"/>
<text x="35.6" y="140" font-size="9.4" text-anchor="end">60</text>
<text x="203.4" y="365.2" font-size="12" text-anchor="middle" xml:space="preserve">Bias  [V]</text>
<text transform="translate(15.6,238.2) rotate(-90)" font-size="12" text-anchor="middle">I(V) [nA]</text>
<circle cx="306.4" cy="258.50" r="1.7" fill="#008000"/>
<line x1="312" y1="258.50" x2="325.6" y2="258.50" stroke="#008000" stroke-width="1"/>
<text x="329.4" y="261.20" font-size="8.3">8 keV</text>
<circle cx="306.4" cy="268.10" r="1.7" fill="#000080"/>
<line x1="312" y1="268.10" x2="325.6" y2="268.10" stroke="#000080" stroke-width="1"/>
<text x="329.4" y="270.80" font-size="8.3">10 keV</text>
<circle cx="306.4" cy="277.70" r="1.7" fill="#0000ff"/>
<line x1="312" y1="277.70" x2="325.6" y2="277.70" stroke="#0000ff" stroke-width="1"/>
<text x="329.4" y="280.40" font-size="8.3">11 keV</text>
<circle cx="306.4" cy="287.30" r="1.7" fill="#00ffff"/>
<line x1="312" y1="287.30" x2="325.6" y2="287.30" stroke="#00ffff" stroke-width="1"/>
<text x="329.4" y="290.00" font-size="8.3">12 keV</text>
<circle cx="306.4" cy="296.90" r="1.7" fill="#ff0000"/>
<line x1="312" y1="296.90" x2="325.6" y2="296.90" stroke="#ff0000" stroke-width="1"/>
<text x="329.4" y="299.60" font-size="8.3">13.5 keV</text>
<circle cx="306.4" cy="306.50" r="1.7" fill="#ffa500"/>
<line x1="312" y1="306.50" x2="325.6" y2="306.50" stroke="#ffa500" stroke-width="1"/>
<text x="329.4" y="309.20" font-size="8.3">15 keV</text>
<circle cx="306.4" cy="316.10" r="1.7" fill="#808000"/>
<line x1="312" y1="316.10" x2="325.6" y2="316.10" stroke="#808000" stroke-width="1"/>
<text x="329.4" y="318.80" font-size="8.3">18 keV</text>
<circle cx="306.4" cy="325.70" r="1.7" fill="#ff00ff"/>
<line x1="312" y1="325.70" x2="325.6" y2="325.70" stroke="#ff00ff" stroke-width="1"/>
<text x="329.4" y="328.40" font-size="8.3">23 keV</text>
<circle cx="306.4" cy="335.30" r="1.7" fill="#000000"/>
<line x1="312" y1="335.30" x2="325.6" y2="335.30" stroke="#000000" stroke-width="1"/>
<text x="329.4" y="338.00" font-size="8.3">dark</text>
</g>
</svg></body></html>
